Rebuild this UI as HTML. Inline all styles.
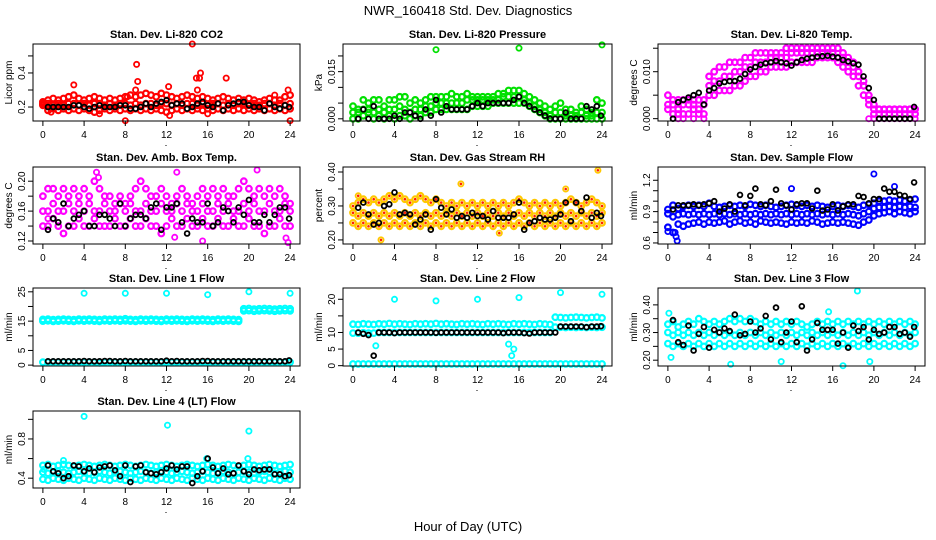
<!DOCTYPE html>
<html><head><meta charset="utf-8"><style>
html,body{margin:0;padding:0;background:#fff;}
svg{display:block;font-family:"Liberation Sans",Arial,sans-serif;}
</style></head><body>
<svg id="chart" width="936" height="540" viewBox="0 0 936 540">
<text x="468" y="15" text-anchor="middle" font-size="13">NWR_160418  Std. Dev. Diagnostics</text>
<text x="468" y="531" text-anchor="middle" font-size="13">Hour of Day (UTC)</text>
</svg>
<script>
const hours=[0,0.5,1,1.5,2,2.5,3,3.5,4,4.5,5,5.5,6,6.5,7,7.5,8,8.5,9,9.5,10,10.5,11,11.5,12,12.5,13,13.5,14,14.5,15,15.5,16,16.5,17,17.5,18,18.5,19,19.5,20,20.5,21,21.5,22,22.5,23,23.5,24];
const blackHours=[0.5,1,1.5,2,2.5,3,3.5,4,4.5,5,5.5,6,6.5,7,7.5,8,8.5,9,9.5,10,10.5,11,11.5,12,12.5,13,13.5,14,14.5,15,15.5,16,16.5,17,17.5,18,18.5,19,19.5,20,20.5,21,21.5,22,22.5,23,23.5,23.9];
const xTicks=[0,4,8,12,16,20,24];

// Panel 1 CO2
const co2Hi=[0.23,0.24,0.25,0.24,0.25,0.26,0.27,0.25,0.24,0.25,0.26,0.25,0.24,0.25,0.24,0.25,0.26,0.27,0.26,0.27,0.28,0.27,0.26,0.28,0.27,0.26,0.25,0.26,0.27,0.26,0.25,0.26,0.25,0.24,0.25,0.26,0.25,0.24,0.25,0.24,0.25,0.24,0.23,0.24,0.25,0.24,0.24,0.26,0.27];
const co2Mid=[0.22,0.22,0.21,0.22,0.21,0.22,0.22,0.21,0.22,0.21,0.22,0.22,0.21,0.22,0.21,0.22,0.22,0.21,0.22,0.21,0.22,0.22,0.21,0.22,0.22,0.21,0.22,0.21,0.22,0.22,0.21,0.22,0.21,0.22,0.22,0.21,0.22,0.21,0.22,0.22,0.21,0.22,0.21,0.22,0.22,0.21,0.22,0.21,0.22];
const co2Lo=[0.21,0.18,0.19,0.18,0.19,0.18,0.19,0.18,0.19,0.18,0.17,0.18,0.19,0.18,0.19,0.18,0.19,0.18,0.19,0.18,0.19,0.18,0.19,0.18,0.17,0.18,0.19,0.18,0.19,0.18,0.19,0.18,0.19,0.18,0.19,0.18,0.19,0.18,0.19,0.18,0.19,0.18,0.19,0.18,0.19,0.18,0.19,0.18,0.19];
const co2Black=[0.2,0.2,0.2,0.2,0.2,0.21,0.21,0.2,0.19,0.2,0.21,0.2,0.2,0.2,0.21,0.21,0.19,0.19,0.2,0.22,0.2,0.22,0.23,0.24,0.21,0.22,0.22,0.19,0.2,0.22,0.23,0.21,0.2,0.22,0.18,0.21,0.22,0.23,0.23,0.21,0.2,0.2,0.18,0.22,0.2,0.19,0.21,0.2];
const co2OutX=[3,8,8.2,9,9.1,9.2,12.2,12.3,14.5,14.9,15.3,15.2,15,16,17.8,22.5,23.8,24,0.8,5.5];
const co2OutY=[0.33,0.12,0.26,0.3,0.45,0.35,0.32,0.15,0.57,0.37,0.4,0.37,0.3,0.16,0.37,0.27,0.3,0.12,0.17,0.16];

// Panel 2 Pressure
const prHi=[0.004,0.003,0.006,0.005,0.006,0.006,0.004,0.006,0.006,0.007,0.007,0.005,0.006,0.005,0.006,0.007,0.007,0.007,0.007,0.008,0.007,0.007,0.008,0.007,0.007,0.007,0.007,0.007,0.008,0.008,0.009,0.009,0.009,0.008,0.007,0.006,0.005,0.004,0.003,0.004,0.005,0.003,0.003,0.002,0.004,0.003,0.002,0.006,0.005];
const prMid=[0.002,0.002,0.003,0.003,0.002,0.003,0.002,0.003,0.003,0.004,0.003,0.002,0.003,0.003,0.004,0.004,0.005,0.005,0.005,0.005,0.005,0.005,0.006,0.006,0.006,0.006,0.006,0.006,0.006,0.007,0.007,0.007,0.007,0.006,0.005,0.004,0.003,0.002,0.001,0.002,0.002,0.001,0.001,0.001,0.002,0.001,0.001,0.002,0.002];
const prLo=[0,0,0.001,0.002,0,0.001,0,0.001,0,0.001,0.001,0,0.001,0.001,0.002,0.002,0.003,0.003,0.003,0.003,0.003,0.003,0.003,0.004,0.004,0.004,0.004,0.005,0.005,0.005,0.005,0.005,0.005,0.005,0.004,0.003,0.002,0.001,0,0,0,0,0,0,0,0,0,0,0];
const prBlack=[0,0.003,0,0.004,0,0,0,0.001,0,0.002,0.002,0.001,0,0.003,0.001,0.006,0.002,0.004,0.003,0.003,0.003,0.003,0.004,0.005,0.004,0.005,0.005,0.005,0.005,0.005,0.006,0.007,0.005,0.004,0.003,0.002,0.001,0,0,0,0.002,0,0,0,0.004,0.003,0.004,0.001];
const prOutX=[8,16,24];
const prOutY=[0.022,0.0225,0.0235];

// Panel 3 Li-820 Temp
const tpHi=[0.005,0.004,0.004,0.004,0.004,0.004,0.004,0.004,0.009,0.010,0.011,0.011,0.012,0.012,0.012,0.013,0.013,0.014,0.014,0.014,0.014,0.014,0.014,0.015,0.015,0.015,0.015,0.015,0.015,0.015,0.015,0.015,0.015,0.015,0.014,0.013,0.012,0.010,0.008,0.005,0.003,0.002,0.002,0.002,0.002,0.002,0.002,0.002,0.002];
const tpMid=[0.003,0.003,0.002,0.003,0.003,0.003,0.002,0.003,0.007,0.008,0.008,0.009,0.009,0.010,0.010,0.011,0.011,0.012,0.012,0.012,0.013,0.013,0.013,0.013,0.014,0.014,0.014,0.014,0.014,0.014,0.014,0.014,0.014,0.013,0.013,0.012,0.011,0.009,0.007,0.004,0.002,0.002,0.002,0.002,0.002,0.002,0.002,0.002,0.002];
const tpLo=[0.002,0.001,0.001,0.001,0.001,0.002,0.001,0.001,0.005,0.005,0.006,0.006,0.006,0.007,0.007,0.008,0.009,0.009,0.010,0.010,0.011,0.011,0.011,0.011,0.012,0.012,0.012,0.012,0.012,0.013,0.013,0.013,0.013,0.012,0.011,0.010,0.009,0.007,0.005,0.003,0.001,0.001,0.001,0.001,0.001,0.001,0.001,0.001,0.001];
const tpBlack=[0,0.0035,0.004,0.0045,0.005,0.0055,0.003,0.006,0.0065,0.0075,0.0078,0.008,0.008,0.0085,0.0095,0.0105,0.011,0.0115,0.0118,0.012,0.0123,0.012,0.0118,0.0113,0.012,0.0125,0.0128,0.013,0.0132,0.0133,0.0134,0.0132,0.013,0.0125,0.0122,0.0118,0.0115,0.009,0.0065,0.004,0,0,0,0,0,0,0,0.0025];
const tpOutX=[1,1.5,2.5,3.5,19.5,20,20.5,21,21.5,22,22.5,23,23.5,24];
const tpOutY=[0,0,0,0,0,0,0,0,0,0,0,0,0,0];

// Panel 4 Amb Box Temp
const abHi=[0.18,0.19,0.19,0.18,0.19,0.18,0.19,0.18,0.19,0.18,0.2,0.19,0.18,0.18,0.17,0.18,0.17,0.18,0.19,0.2,0.19,0.18,0.18,0.19,0.18,0.17,0.18,0.19,0.18,0.17,0.18,0.19,0.18,0.19,0.18,0.19,0.18,0.18,0.19,0.2,0.19,0.18,0.19,0.18,0.19,0.18,0.19,0.18,0.17];
const abMid=[0.16,0.16,0.17,0.16,0.16,0.17,0.16,0.17,0.16,0.17,0.16,0.16,0.17,0.16,0.16,0.17,0.16,0.17,0.16,0.16,0.17,0.16,0.16,0.17,0.16,0.16,0.17,0.16,0.17,0.16,0.16,0.17,0.16,0.16,0.17,0.16,0.17,0.16,0.16,0.17,0.16,0.17,0.16,0.16,0.17,0.16,0.16,0.17,0.16];
const abLo=[0.14,0.14,0.15,0.14,0.13,0.14,0.14,0.15,0.14,0.14,0.15,0.14,0.14,0.14,0.15,0.14,0.14,0.15,0.14,0.14,0.15,0.14,0.14,0.13,0.14,0.15,0.14,0.14,0.15,0.14,0.14,0.15,0.14,0.14,0.15,0.14,0.14,0.15,0.14,0.14,0.15,0.14,0.14,0.13,0.14,0.14,0.15,0.14,0.14];
const abBlack=[0.135,0.15,0.145,0.17,0.14,0.15,0.155,0.16,0.14,0.14,0.155,0.155,0.15,0.14,0.17,0.14,0.15,0.155,0.155,0.15,0.165,0.17,0.135,0.165,0.165,0.17,0.145,0.13,0.15,0.145,0.145,0.17,0.14,0.145,0.165,0.16,0.145,0.165,0.155,0.175,0.145,0.145,0.155,0.145,0.155,0.165,0.165,0.15];
const abOutX=[5.2,5.4,12.8,13,15.5,20.8,23.8,23.6,0.5];
const abOutY=[0.212,0.205,0.125,0.212,0.12,0.215,0.118,0.124,0.15];

// Panel 5 Gas Stream RH
const rhHi=[0.30,0.31,0.32,0.31,0.32,0.31,0.32,0.33,0.32,0.33,0.32,0.31,0.32,0.33,0.32,0.31,0.32,0.31,0.30,0.31,0.30,0.31,0.30,0.31,0.30,0.31,0.30,0.31,0.30,0.31,0.30,0.31,0.32,0.31,0.30,0.31,0.30,0.31,0.30,0.31,0.30,0.31,0.32,0.31,0.30,0.31,0.32,0.31,0.30];
const rhMid=[0.28,0.27,0.28,0.27,0.28,0.27,0.28,0.27,0.28,0.27,0.28,0.27,0.28,0.27,0.28,0.27,0.28,0.27,0.28,0.27,0.28,0.27,0.28,0.27,0.28,0.27,0.28,0.27,0.28,0.27,0.28,0.27,0.28,0.27,0.28,0.27,0.28,0.27,0.28,0.27,0.28,0.27,0.28,0.27,0.28,0.27,0.28,0.27,0.28];
const rhLo=[0.25,0.24,0.25,0.24,0.25,0.24,0.25,0.24,0.25,0.24,0.25,0.24,0.25,0.24,0.25,0.24,0.25,0.24,0.25,0.24,0.25,0.24,0.25,0.24,0.25,0.24,0.25,0.24,0.25,0.24,0.25,0.24,0.25,0.24,0.25,0.24,0.25,0.24,0.25,0.24,0.25,0.24,0.25,0.24,0.25,0.24,0.25,0.24,0.25];
const rhBlack=[0.295,0.31,0.275,0.245,0.25,0.30,0.305,0.34,0.275,0.28,0.275,0.245,0.26,0.275,0.23,0.32,0.295,0.275,0.29,0.265,0.27,0.265,0.28,0.27,0.27,0.26,0.285,0.265,0.265,0.265,0.275,0.31,0.23,0.25,0.255,0.265,0.26,0.26,0.265,0.275,0.31,0.255,0.31,0.285,0.325,0.265,0.28,0.27];
const rhOutX=[2.7,10.4,23.6,20.5,14.1,0.5];
const rhOutY=[0.2,0.365,0.405,0.35,0.22,0.33];

// Panel 6 Sample Flow
const sfHi=[0.92,0.96,0.93,0.95,0.96,0.95,0.96,0.95,0.98,0.95,0.94,0.95,0.96,0.95,0.96,0.95,0.97,0.96,0.95,0.96,0.95,0.94,0.95,0.96,0.97,0.96,0.95,0.96,0.95,0.96,0.95,0.94,0.95,0.96,0.95,0.96,0.95,0.94,0.96,0.97,0.98,1.0,1.0,1.01,1.0,1.01,1.0,1.01,1.02];
const sfMid=[0.88,0.85,0.87,0.88,0.87,0.88,0.87,0.88,0.87,0.88,0.87,0.88,0.87,0.88,0.87,0.88,0.87,0.88,0.87,0.88,0.87,0.88,0.87,0.88,0.87,0.88,0.87,0.88,0.87,0.88,0.87,0.88,0.87,0.88,0.87,0.88,0.87,0.86,0.88,0.9,0.93,0.94,0.94,0.95,0.94,0.95,0.94,0.95,0.94];
const sfLo=[0.75,0.70,0.78,0.76,0.78,0.79,0.80,0.78,0.80,0.79,0.80,0.81,0.78,0.80,0.81,0.79,0.80,0.78,0.81,0.80,0.79,0.80,0.79,0.78,0.80,0.79,0.80,0.79,0.81,0.80,0.78,0.79,0.80,0.79,0.80,0.79,0.78,0.77,0.80,0.82,0.86,0.88,0.89,0.90,0.88,0.90,0.89,0.88,0.90];
const sfBlack=[0.92,0.96,0.96,0.96,0.97,0.96,0.97,0.98,1.0,0.90,0.93,0.97,0.90,1.06,0.96,1.05,1.12,0.97,0.96,1.0,1.11,0.98,0.96,0.92,0.97,0.98,0.98,0.93,1.10,0.91,0.92,0.97,0.91,0.95,0.97,0.97,1.05,1.04,0.98,1.02,1.02,1.12,1.09,1.09,1.06,1.05,1.02,1.18];
const sfOutX=[0,0.7,0.8,0.9,20,12,22];
const sfOutY=[0.71,0.70,0.66,0.62,1.26,1.12,1.14];

// Panel 7 Line 1 Flow
const l1Hi=[15.6,15.7,15.5,15.6,15.7,15.6,15.5,15.7,15.6,15.7,15.6,15.5,15.7,15.6,15.7,15.6,15.8,15.6,15.5,15.7,15.6,15.7,15.6,15.5,15.7,15.6,15.7,15.6,15.5,15.7,15.6,15.7,15.6,15.5,15.7,15.6,15.7,15.6,15.5,19.2,19.3,19.1,19.2,19.3,19.2,19.1,19.2,19.3,19.2];
const l1Mid=[15.0,15.1,14.9,15.0,15.1,15.0,14.9,15.1,15.0,15.1,15.0,14.9,15.1,15.0,15.1,15.0,15.1,15.0,14.9,15.1,15.0,15.1,15.0,14.9,15.1,15.0,15.1,15.0,14.9,15.1,15.0,15.1,15.0,14.9,15.1,15.0,15.1,15.0,14.9,18.5,18.6,18.4,18.5,18.6,18.5,18.4,18.5,18.6,18.5];
const l1Lo=[1.0,1.0,1.0,1.0,1.0,1.0,1.0,1.0,1.0,1.0,1.0,0.8,1.0,1.0,1.0,1.0,1.0,1.0,1.0,1.0,1.0,1.0,1.0,1.0,1.0,1.0,1.0,1.0,1.0,1.0,1.0,1.0,1.0,1.0,1.0,1.0,1.0,1.0,1.0,1.0,1.0,1.0,1.0,1.0,1.0,1.0,1.0,1.0,1.0];
const l1Black=[1.3,1.3,1.3,1.3,1.3,1.3,1.3,1.4,1.3,1.3,1.3,1.4,1.4,1.3,1.3,1.4,1.3,1.3,1.3,1.3,1.3,1.3,1.3,1.5,1.3,1.4,1.3,1.3,1.3,1.3,1.4,1.4,1.3,1.3,1.3,1.3,1.3,1.3,1.3,1.3,1.3,1.3,1.3,1.3,1.3,1.3,1.3,1.6];
const l1OutX=[4,8,12,16,20,24];
const l1OutY=[24.5,24.5,24.5,24,25,24.5];

// Panel 8 Line 2 Flow
const l2Hi=[12.5,12.4,12.6,12.5,12.4,12.6,12.5,12.7,12.5,12.6,12.5,12.4,12.6,12.5,12.6,12.5,12.7,12.5,12.6,12.5,12.4,12.6,12.5,12.6,12.5,12.4,12.6,12.5,12.6,12.5,12.4,12.6,12.5,12.6,12.5,12.4,12.6,12.5,12.4,14.6,14.5,14.4,14.5,14.6,14.5,14.4,14.5,14.6,14.4];
const l2Mid=[9.8,9.8,9.9,9.8,9.8,10.0,10.0,10.0,10.0,10.0,10.0,10.0,10.0,10.0,10.0,10.0,10.0,10.0,10.0,10.0,10.0,10.0,10.0,10.0,10.0,10.0,10.0,10.0,10.0,10.0,10.0,10.0,10.0,10.0,10.0,10.0,10.0,10.0,10.0,11.6,11.6,11.5,11.6,11.5,11.6,11.5,11.6,11.5,11.6];
const l2Lo=[0.5,0.5,0.5,0.5,0.5,0.5,0.5,0.5,0.5,0.5,0.5,0.5,0.5,0.5,0.5,0.5,0.5,0.5,0.5,0.5,0.5,0.5,0.5,0.5,0.5,0.5,0.5,0.5,0.5,0.5,0.5,0.5,0.5,0.5,0.5,0.5,0.5,0.5,0.5,0.5,0.5,0.5,0.5,0.5,0.5,0.5,0.5,0.5,0.5];
const l2Black=[10,9.6,9.2,3,10,10,10,9.8,10,10,10,10,10,10,10,9.9,10,10,10,10,10,10,10,10,10,10,10,10,9.8,10,10,10,9.8,9.7,10,10,10,10,10,11.8,11.8,11.8,11.8,11.8,11.6,11.8,11.8,11.9];
const l2OutX=[4,8,12,16,20,24,2.2,15,15.3,15.5];
const l2OutY=[20,19.5,20,20.5,22,21.5,6,6.5,3,5];

// Panel 9 Line 3 Flow
const l3Hi=[0.33,0.34,0.32,0.33,0.34,0.33,0.35,0.34,0.33,0.34,0.33,0.34,0.35,0.34,0.35,0.34,0.35,0.34,0.33,0.34,0.33,0.34,0.33,0.34,0.33,0.34,0.33,0.32,0.33,0.34,0.33,0.34,0.33,0.34,0.33,0.34,0.33,0.34,0.33,0.34,0.33,0.34,0.33,0.34,0.33,0.34,0.33,0.34,0.33];
const l3Mid=[0.30,0.29,0.30,0.29,0.30,0.29,0.30,0.29,0.30,0.29,0.30,0.29,0.30,0.29,0.30,0.29,0.30,0.29,0.30,0.29,0.30,0.29,0.30,0.29,0.30,0.29,0.30,0.29,0.30,0.29,0.30,0.29,0.30,0.29,0.30,0.29,0.30,0.29,0.30,0.29,0.30,0.29,0.30,0.29,0.30,0.29,0.30,0.29,0.30];
const l3Lo=[0.26,0.25,0.26,0.25,0.26,0.25,0.26,0.25,0.26,0.25,0.26,0.25,0.26,0.25,0.26,0.25,0.26,0.25,0.26,0.25,0.26,0.25,0.26,0.25,0.26,0.25,0.26,0.25,0.26,0.25,0.26,0.25,0.26,0.25,0.26,0.25,0.26,0.25,0.26,0.25,0.26,0.25,0.26,0.25,0.26,0.25,0.26,0.25,0.26];
const l3Black=[0.345,0.265,0.255,0.325,0.235,0.295,0.32,0.245,0.31,0.3,0.315,0.305,0.365,0.29,0.295,0.34,0.3,0.315,0.36,0.275,0.39,0.265,0.3,0.34,0.265,0.395,0.235,0.275,0.335,0.31,0.31,0.31,0.26,0.3,0.245,0.325,0.305,0.32,0.275,0.31,0.295,0.3,0.32,0.32,0.295,0.3,0.285,0.32];
const l3OutX=[0.1,0.3,6.1,18.4,17,19.6,15.6,11];
const l3OutY=[0.37,0.21,0.185,0.45,0.18,0.195,0.375,0.195];

// Panel 10 Line 4 (LT) Flow
const l4Hi=[0.53,0.54,0.52,0.53,0.54,0.53,0.52,0.53,0.54,0.53,0.52,0.53,0.54,0.53,0.52,0.53,0.54,0.53,0.52,0.53,0.54,0.53,0.52,0.53,0.54,0.53,0.52,0.53,0.54,0.53,0.52,0.53,0.54,0.53,0.52,0.53,0.54,0.53,0.52,0.53,0.54,0.53,0.52,0.53,0.54,0.53,0.52,0.53,0.54];
const l4Mid=[0.46,0.45,0.46,0.47,0.46,0.45,0.46,0.47,0.46,0.45,0.46,0.47,0.46,0.45,0.46,0.47,0.46,0.45,0.46,0.47,0.46,0.45,0.46,0.47,0.46,0.45,0.46,0.47,0.46,0.45,0.46,0.47,0.46,0.45,0.46,0.47,0.46,0.45,0.46,0.47,0.46,0.45,0.46,0.47,0.46,0.45,0.46,0.47,0.46];
const l4Lo=[0.39,0.38,0.40,0.39,0.38,0.40,0.39,0.38,0.40,0.39,0.38,0.40,0.39,0.38,0.40,0.39,0.38,0.40,0.39,0.38,0.40,0.39,0.38,0.40,0.39,0.38,0.40,0.39,0.38,0.40,0.39,0.38,0.40,0.39,0.38,0.40,0.39,0.38,0.40,0.39,0.38,0.40,0.39,0.38,0.40,0.39,0.38,0.40,0.39];
const l4Black=[0.53,0.47,0.45,0.4,0.42,0.53,0.52,0.47,0.5,0.46,0.51,0.52,0.53,0.48,0.42,0.53,0.36,0.52,0.53,0.46,0.45,0.44,0.46,0.5,0.53,0.49,0.52,0.52,0.35,0.42,0.47,0.6,0.51,0.45,0.5,0.44,0.45,0.53,0.47,0.44,0.49,0.48,0.49,0.49,0.44,0.44,0.42,0.43];
const l4OutX=[4,12.1,20,19.9,15.9,2,0.1];
const l4OutY=[1.03,0.94,0.88,0.6,0.6,0.58,0.49];

const panels=[
 {name:'co2',title:'Stan. Dev. Li-820 CO2',yt:'Licor ppm',col:0,row:0,dom:[0.118,0.57],ticks:[0.2,0.3,0.4,0.5],labs:['0.2','0.4'],color:'#ff0000',c:[co2Hi,co2Mid,co2Lo],b:co2Black,ox:co2OutX,oy:co2OutY},
 {name:'pressure',title:'Stan. Dev. Li-820 Pressure',yt:'kPa',col:1,row:0,dom:[-0.0007,0.0238],ticks:[0,0.005,0.01,0.015,0.02],labs:['0.000','0.015'],color:'#00e000',c:[prHi,prMid,prLo],b:prBlack,ox:prOutX,oy:prOutY},
 {name:'li820-temp',title:'Stan. Dev. Li-820 Temp.',yt:'degrees C',col:2,row:0,dom:[-0.0005,0.0159],ticks:[0,0.005,0.01,0.015],labs:['0.000','0.010'],color:'#ff00ff',c:[tpHi,tpMid,tpLo],b:tpBlack,ox:tpOutX,oy:tpOutY},
 {name:'amb-box-temp',title:'Stan. Dev. Amb. Box Temp.',yt:'degrees C',col:0,row:1,dom:[0.116,0.219],ticks:[0.12,0.14,0.16,0.18,0.2],labs:['0.12','0.16','0.20'],color:'#ff00ff',c:[abHi,abMid,abLo],b:abBlack,ox:abOutX,oy:abOutY},
 {name:'gas-stream-rh',title:'Stan. Dev. Gas Stream RH',yt:'percent',col:1,row:1,dom:[0.188,0.4147],ticks:[0.2,0.25,0.3,0.35,0.4],labs:['0.20','0.30','0.40'],color:'#ffc800',rh:true,c:[rhHi,rhMid,rhLo],b:rhBlack,ox:rhOutX,oy:rhOutY},
 {name:'sample-flow',title:'Stan. Dev. Sample Flow',yt:'ml/min',col:2,row:1,dom:[0.59,1.327],ticks:[0.6,0.7,0.8,0.9,1.0,1.1,1.2],labs:['0.6','0.9','1.2'],color:'#0000ff',c:[sfHi,sfMid,sfLo],b:sfBlack,ox:sfOutX,oy:sfOutY},
 {name:'line1-flow',title:'Stan. Dev. Line 1 Flow',yt:'ml/min',col:0,row:2,dom:[-0.3,26.3],ticks:[0,5,10,15,20,25],labs:['0','5','15','25'],color:'#00ffff',c:[l1Hi,l1Mid,l1Lo],b:l1Black,ox:l1OutX,oy:l1OutY},
 {name:'line2-flow',title:'Stan. Dev. Line 2 Flow',yt:'ml/min',col:1,row:2,dom:[-0.1,23.4],ticks:[0,5,10,15,20],labs:['0','5','10','20'],color:'#00ffff',c:[l2Hi,l2Mid,l2Lo],b:l2Black,ox:l2OutX,oy:l2OutY},
 {name:'line3-flow',title:'Stan. Dev. Line 3 Flow',yt:'ml/min',col:2,row:2,dom:[0.179,0.461],ticks:[0.2,0.25,0.3,0.35,0.4],labs:['0.20','0.30','0.40'],color:'#00ffff',c:[l3Hi,l3Mid,l3Lo],b:l3Black,ox:l3OutX,oy:l3OutY},
 {name:'line4-flow',title:'Stan. Dev. Line 4 (LT) Flow',yt:'ml/min',col:0,row:3,dom:[0.30,1.085],ticks:[0.4,0.6,0.8,1.0],labs:['0.4','0.8'],color:'#00ffff',c:[l4Hi,l4Mid,l4Lo],b:l4Black,ox:l4OutX,oy:l4OutY}
];
const cols=[[33,300],[343,612],[658,925]];
const rows=[[44,121],[167,244],[288,366],[411,488]];
const NS='http://www.w3.org/2000/svg';
const svg=document.getElementById('chart');
function mk(tag,attrs,parent){const e=document.createElementNS(NS,tag);for(const k in attrs)e.setAttribute(k,attrs[k]);(parent||svg).appendChild(e);return e;}
panels.forEach(p=>{
 const [L,R]=cols[p.col],[T,B]=rows[p.row];
 const g=mk('g',{});
 
 
 const xs=h=>L+(h+0.96)/25.92*(R-L);
 const ys=v=>B-(v-p.dom[0])/(p.dom[1]-p.dom[0])*(B-T);
 const t=mk('text',{x:(L+R)/2,y:T-6,'text-anchor':'middle','font-size':11,'font-weight':'bold'},g);t.textContent=p.title;
 
 
 const yt=mk('text',{x:0,y:0,'text-anchor':'middle','font-size':10,transform:`translate(${L-21},${(T+B)/2}) rotate(-90)`},g);yt.textContent=p.yt;
 
 
 const cg=mk('g',{},g);
 
 
 const dot=(h,v,color,r,sw)=>{const c=mk('circle',{cx:xs(h).toFixed(1),cy:ys(v).toFixed(1),r:r,fill:'none',stroke:color,'stroke-width':sw},cg);
  
  
  if(p.rh&&color!=='#000'){const d=mk('circle',{cx:xs(h).toFixed(1),cy:ys(v).toFixed(1),r:1.3,fill:'#ff2000'},cg);
   
   }};
 p.c.forEach(arr=>arr.forEach((v,i)=>{if(hours[i]!==undefined)dot(hours[i],v,p.color,2.8,2.2);}));
 p.ox.forEach((h,i)=>dot(h,p.oy[i],p.color,2.6,1.8));
 p.b.forEach((v,i)=>{if(blackHours[i]!==undefined)dot(blackHours[i],v,'#000',2.4,1.8);});
 const bx=mk('rect',{x:L,y:T,width:R-L,height:B-T,fill:'none',stroke:'#000','stroke-width':1},g);
 
 
 xTicks.forEach(h=>{mk('line',{x1:xs(h),x2:xs(h),y1:B,y2:B+5,stroke:'#000'},g);
  const tl=mk('text',{x:xs(h),y:B+17,'text-anchor':'middle','font-size':10},g);tl.textContent=h;
  
  });
 mk('rect',{x:(L+R)/2-1,y:B+24,width:1,height:1,fill:'#000'},g);
 p.ticks.forEach(v=>{mk('line',{x1:L-5,x2:L,y1:ys(v),y2:ys(v),stroke:'#000'},g);});
 p.labs.forEach(s=>{const v=parseFloat(s);const tl=mk('text',{x:0,y:0,'text-anchor':'middle','font-size':10,transform:`translate(${L-8},${ys(v)}) rotate(-90)`},g);tl.textContent=s;
  
  });
});
</script>
</body></html>
